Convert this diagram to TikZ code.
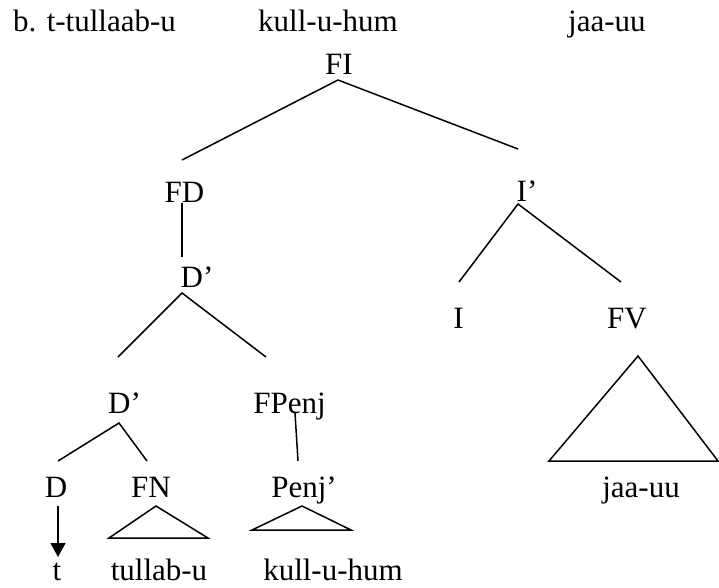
\documentclass[tikz,border=0pt]{standalone}
\usepackage{fontspec}
\setmainfont{Liberation Serif}
\usetikzlibrary{arrows.meta}
\begin{document}
\begin{tikzpicture}[x=1pt,y=-1pt,
  lbl/.style={inner sep=0pt,anchor=base,font=\fontsize{31}{37}\selectfont},
  lblw/.style={lbl,anchor=base west},
  edge/.style={line width=1.5pt},
  roof/.style={line width=1.5pt,line join=miter}]
\useasboundingbox (0,0) rectangle (719,588);

% header line
\node[lblw] (ex)   at (13,32)  {b. t-tullaab-u};
\node[lblw] (exk)  at (258,32) {kull-u-hum};
\node[lblw] (exj)  at (568,32) {jaa-uu};

% tree labels
\node[lbl] (FI)    at (339,75)   {FI};
\node[lbl] (FD)    at (184.5,202){FD};
\node[lbl] (Ib)    at (527,201)  {I’};
\node[lbl] (Db1)   at (197,287)  {D’};
\node[lbl] (I)     at (458.5,328){I};
\node[lbl] (FV)    at (627,328)  {FV};
\node[lbl] (Db2)   at (124.5,413){D’};
\node[lbl] (FPenj) at (289.5,413){FPenj};
\node[lbl] (D)     at (56,497)   {D};
\node[lbl] (FN)    at (151,497)  {FN};
\node[lbl] (Penjb) at (304,497)  {Penj’};
\node[lbl] (jaa)   at (641,497)  {jaa-uu};
\node[lbl] (t)     at (57,580)   {t};
\node[lbl] (tul)   at (159,580)  {tullab-u};
\node[lbl] (kul)   at (333,580)  {kull-u-hum};

% branch end points
\coordinate (FI-s)    at (338,80);
\coordinate (FD-n)    at (182,160);
\coordinate (Ib-n)    at (518,149);
\coordinate (FD-s)    at (182,203);
\coordinate (Db1-n)   at (182,257);
\coordinate (Db1-s)   at (182,293);
\coordinate (Db2-n)   at (118,357);
\coordinate (FPenj-n) at (266,357);
\coordinate (Ib-s)    at (518,204);
\coordinate (I-n)     at (459,282);
\coordinate (FV-n)    at (621,282);
\coordinate (Db2-s)   at (119,423);
\coordinate (D-n)     at (58,461);
\coordinate (FN-n)    at (147,461);
\coordinate (FPenj-s) at (295,413);
\coordinate (Penjb-n) at (298,461);
\coordinate (D-s)     at (58,506);
\coordinate (t-n)     at (58,557);

% branches
\draw[edge] (FI-s) -- (FD-n);
\draw[edge] (FI-s) -- (Ib-n);
\draw[edge] (FD-s) -- (Db1-n);
\draw[edge] (Db2-n) -- (Db1-s) -- (FPenj-n);
\draw[edge] (I-n) -- (Ib-s) -- (FV-n);
\draw[edge] (D-n) -- (Db2-s) -- (FN-n);
\draw[edge] (FPenj-s) -- (Penjb-n);

% movement arrow
\draw[edge,-{Triangle[length=14pt,width=15pt]}] (D-s) -- (t-n);

% roofs
\draw[roof] (156,506) -- (109,538) -- (208,538) -- cycle;
\draw[roof] (302,506) -- (252,530) -- (351,530) -- cycle;
\draw[roof] (638,356) -- (549,461) -- (718,461) -- cycle;
\end{tikzpicture}
\end{document}
